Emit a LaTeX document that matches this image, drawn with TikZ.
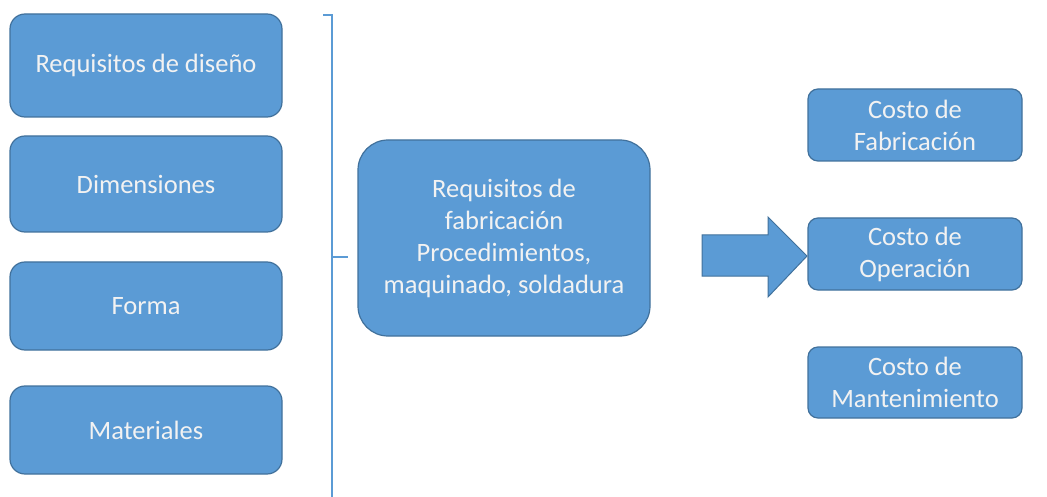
\documentclass[tikz,border=0pt]{standalone}
\usepackage{fontspec}
\setmainfont{Carlito}
\usetikzlibrary{positioning}
\definecolor{boxfill}{HTML}{5B9BD5}
\definecolor{boxline}{HTML}{41719C}
\definecolor{boxtext}{HTML}{F2F2F2}
\begin{document}
\begin{tikzpicture}[x=1pt,y=-1pt,
  blockbox/.style={draw=boxline,line width=1.2pt,fill=boxfill,text=boxtext,
    rounded corners=#1,align=center,font=\fontsize{26.5}{32}\selectfont,inner sep=0pt},
  blockbox/.default=15pt]
\useasboundingbox (0,0) rectangle (1047,497);
% left column
\node[blockbox,minimum width=272pt,minimum height=103pt] (dis) at (146,65.5) {Requisitos de diseño};
\node[blockbox,minimum width=272pt,minimum height=96pt] (dim) at (146,184) {Dimensiones};
\node[blockbox,minimum width=272pt,minimum height=88pt] (for) at (146,306) {Forma};
\node[blockbox,minimum width=272pt,minimum height=88pt] (mat) at (146,430) {Materiales};
% bracket
\coordinate (bt) at (332,15);
\coordinate (btl) at (323,15);
\coordinate (bb) at (332,497);
\coordinate (bm) at (332,257);
\coordinate (bmr) at (348,257);
\draw[boxfill,line width=1.5pt] (btl) -- (bt) -- (bb);
\draw[boxfill,line width=1.5pt] (bm) -- (bmr);
% middle box
\node[blockbox=30pt,minimum width=292pt,minimum height=196pt] (fab) at (504,238)
  {Requisitos de\\fabricación\\Procedimientos,\\maquinado, soldadura};
% block arrow
\draw[boxline,line width=1pt,fill=boxfill] (702,235) -- (768,235) -- (768,217) -- (807,256)
  -- (768,297) -- (768,276) -- (702,276) -- cycle;
% right column
\node[blockbox=10pt,minimum width=214pt,minimum height=72pt] (cf) at (915,125) {Costo de\\Fabricación};
\node[blockbox=10pt,minimum width=214pt,minimum height=72pt] (co) at (915,254) {Costo de\\Operación};
\node[blockbox=10pt,minimum width=214pt,minimum height=71pt] (cm) at (915,382.5) {Costo de\\Mantenimiento};
\end{tikzpicture}
\end{document}
